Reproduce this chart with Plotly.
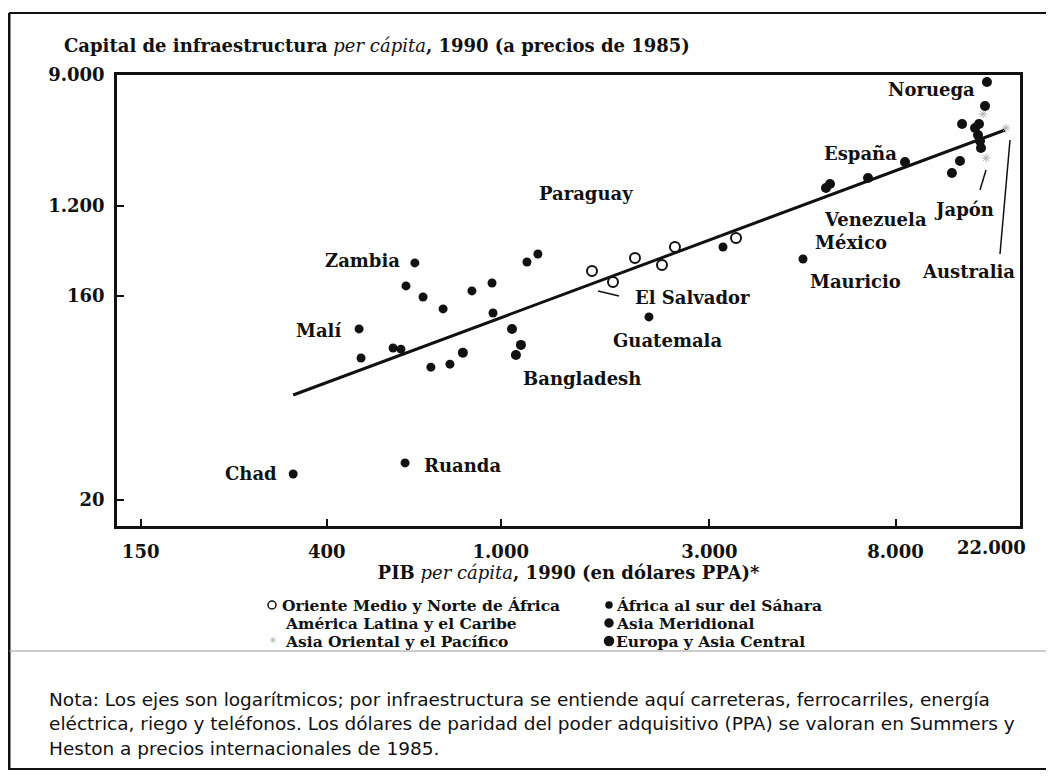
import plotly.graph_objects as go

# ---- data ----
# Africa al sur del Sahara
AFR_X = [335, 604, 636, 607, 664, 738, 859, 955, 1148, 1216, 474, 479, 567, 591, 692, 765, 960, 4914]
AFR_Y = [29.1, 34.1, 604, 434, 370, 312, 404, 453, 612, 687, 234, 154, 178, 175, 135, 141, 294, 639]
# Asia Meridional
SAS_X = [819, 1061, 1112, 1083]
SAS_Y = [166, 234, 186, 161]
# Oriente Medio y Norte de Africa (open circles)
MNA_X = [1617, 1806, 2028, 2338, 2503, 3453]
MNA_Y = [538, 459, 648, 586, 760, 864]
# America Latina y el Caribe
LAC_X = [2183, 3224]
LAC_Y = [278, 760]
# Asia Oriental y el Pacifico (faint marks)
EAP_X = [12685, 12890, 14315]
EAP_Y = [5138, 2730, 4201]
# Europa y Asia Central
ECA_X = [12950, 12820, 11360, 12420, 12160, 12355, 12485, 12550, 11235, 10770, 8410, 6922, 5665, 5546]
ECA_Y = [8136, 5764, 4449, 4449, 4201, 3799, 3485, 3151, 2615, 2200, 2577, 2048, 1878, 1774]

# fitted line end points
LINE_X = [335, 14240]
LINE_Y = [90.5, 4083]

X_TICKS = [150, 400, 1000, 3000, 8000]
X_TICK_TEXT = ["150", "400", "1.000", "3.000", "8.000"]
X_END_LABEL = "22.000"
# tick labels as they sit on the printed (uneven) vertical scale
Y_TICKS = [20, 375.6, 1369, 9000]
Y_TICK_TEXT = ["20", "160", "1.200", "9.000"]

LABELS = [("Noruega", 931, 90), ("España", 860, 153), ("Paraguay", 586, 193),
          ("Venezuela", 875, 219), ("Japón", 964, 209), ("México", 851, 242),
          ("Zambia", 362, 261), ("Australia", 968, 271), ("Mauricio", 855, 281),
          ("El Salvador", 692, 297), ("Malí", 318, 330), ("Guatemala", 667, 340),
          ("Bangladesh", 582, 378), ("Chad", 251, 473), ("Ruanda", 462, 465)]

LEG_LEFT = ["Oriente Medio y Norte de África", "América Latina y el Caribe", "Asia Oriental y el Pacífico"]
LEG_RIGHT = ["África al sur del Sáhara", "Asia Meridional", "Europa y Asia Central"]

NOTE_LINES = [
    "Nota: Los ejes son logarítmicos; por infraestructura se entiende aquí carreteras, ferrocarriles, energía",
    "eléctrica, riego y teléfonos. Los dólares de paridad del poder adquisitivo (PPA) se valoran en Summers y",
    "Heston a precios internacionales de 1985.",
]

# ---- layout geometry (page pixels; the page body adds an 8 px margin) ----
OFF = 8
FIG_W, FIG_H = 1038, 763
ML, MT = 109, 67
PW, PH = 903, 451

SERIF = "DejaVu Serif"
INK = "#111111"


def fx(px):
    return (px - OFF - ML) / PW


def fy(py):
    return 1 - (py - OFF - MT) / PH


fig = go.Figure()

fig.add_trace(go.Scatter(x=LINE_X, y=LINE_Y, mode="lines",
                         line=dict(color=INK, width=3), showlegend=False, hoverinfo="skip"))
fig.add_trace(go.Scatter(x=AFR_X, y=AFR_Y, mode="markers", name="África al sur del Sáhara",
                         marker=dict(color=INK, size=9), showlegend=False))
fig.add_trace(go.Scatter(x=SAS_X, y=SAS_Y, mode="markers", name="Asia Meridional",
                         marker=dict(color=INK, size=10), showlegend=False))
fig.add_trace(go.Scatter(x=MNA_X, y=MNA_Y, mode="markers", name="Oriente Medio y Norte de África",
                         marker=dict(color="white", size=10, line=dict(color=INK, width=2)),
                         showlegend=False))
fig.add_trace(go.Scatter(x=LAC_X, y=LAC_Y, mode="markers", name="América Latina y el Caribe",
                         marker=dict(color=INK, size=9), showlegend=False))
fig.add_trace(go.Scatter(x=EAP_X, y=EAP_Y, mode="markers", name="Asia Oriental y el Pacífico",
                         marker=dict(color="#b0b0b0", size=7, symbol="asterisk-open",
                                     line=dict(color="#b0b0b0", width=1)),
                         showlegend=False))
fig.add_trace(go.Scatter(x=ECA_X, y=ECA_Y, mode="markers", name="Europa y Asia Central",
                         marker=dict(color=INK, size=10), showlegend=False))

annotations = []

# title
annotations.append(dict(
    text="<b>Capital de infraestructura</b> <i>per cápita</i><b>, 1990 (a precios de 1985)</b>",
    x=fx(62), y=fy(45), xref="paper", yref="paper", xanchor="left", yanchor="middle",
    showarrow=False, font=dict(family=SERIF, size=18, color=INK)))

# last x label at the right end of the axis
annotations.append(dict(text="<b>%s</b>" % X_END_LABEL, x=fx(991), y=fy(547),
                        xref="paper", yref="paper", xanchor="center", yanchor="middle",
                        showarrow=False, font=dict(family=SERIF, size=18, color=INK)))

for name, px, py in LABELS:
    annotations.append(dict(text="<b>%s</b>" % name, x=fx(px), y=fy(py), xref="paper", yref="paper",
                            xanchor="center", yanchor="middle", showarrow=False,
                            font=dict(family=SERIF, size=18, color=INK)))

# legend (two columns, three rows)
LEG_ROWS = [605, 623, 641]
for i, row in enumerate(LEG_ROWS):
    annotations.append(dict(text="<b>%s</b>" % LEG_LEFT[i], x=fx(281 if i == 0 else 284), y=fy(row),
                            xref="paper", yref="paper", xanchor="left", yanchor="middle",
                            showarrow=False, borderpad=0,
                            font=dict(family=SERIF, size=15.5, color=INK)))
    annotations.append(dict(text="<b>%s</b>" % LEG_RIGHT[i], x=fx(615), y=fy(row),
                            xref="paper", yref="paper", xanchor="left", yanchor="middle",
                            showarrow=False, borderpad=0,
                            font=dict(family=SERIF, size=15.5, color=INK)))
annotations.append(dict(text="*", x=fx(273), y=fy(643), xref="paper", yref="paper",
                        xanchor="center", yanchor="middle", showarrow=False, borderpad=0,
                        font=dict(family=SERIF, size=12, color="#aaaaaa")))

for i, line in enumerate(NOTE_LINES):
    annotations.append(dict(text=line, x=fx(47), y=fy(699 + 24.5 * i), xref="paper", yref="paper",
                            xanchor="left", yanchor="middle", showarrow=False,
                            font=dict(family="DejaVu Sans", size=18.5, color=INK)))

shapes = []


def seg(x0, y0, x1, y1, color=INK, width=1.5):
    shapes.append(dict(type="line", xref="paper", yref="paper", x0=fx(x0), y0=fy(y0),
                       x1=fx(x1), y1=fy(y1), line=dict(color=color, width=width)))


# leader lines
seg(986, 170, 980, 190)
seg(1010, 140, 1000, 254)
seg(598, 291, 619, 296)

# page border and separator
seg(9, 13, 1054, 13, width=2)
seg(9, 13, 9, 770, width=3)
seg(9, 769, 1054, 769, width=2)
seg(9, 651, 1054, 651, color="#9a9a9a", width=1)


# legend symbols
def dot(px, py, r, fill=INK, line=INK):
    shapes.append(dict(type="circle", xref="paper", yref="paper", xsizemode="pixel",
                       ysizemode="pixel", xanchor=fx(px), yanchor=fy(py),
                       x0=-r, x1=r, y0=-r, y1=r, fillcolor=fill,
                       line=dict(color=line, width=1.5)))


dot(272, 605, 4, fill="white")
dot(609, 605, 3)
dot(609, 623, 4)
dot(609, 641, 4.5)

fig.update_layout(
    width=FIG_W, height=FIG_H,
    margin=dict(l=ML, r=FIG_W - ML - PW, t=MT, b=FIG_H - MT - PH, pad=0),
    paper_bgcolor="white", plot_bgcolor="white",
    showlegend=False,
    annotations=annotations, shapes=shapes,
    font=dict(family=SERIF, color=INK),
    xaxis=dict(
        type="log", range=[2.1220, 4.1879],
        tickvals=X_TICKS, ticktext=["<b>%s</b>" % t for t in X_TICK_TEXT],
        ticks="inside", ticklen=7, tickwidth=2, tickcolor=INK,
        ticklabelstandoff=8,
        tickfont=dict(family=SERIF, size=18, color=INK),
        showline=True, linecolor=INK, linewidth=2.5, mirror=True,
        showgrid=False, zeroline=False,
        title=dict(text="<b>PIB</b> <i>per cápita</i><b>, 1990 (en dólares PPA)*</b>",
                   font=dict(family=SERIF, size=18, color=INK), standoff=4),
    ),
    yaxis=dict(
        type="log", range=[1.1390, 3.9542],
        tickvals=Y_TICKS, ticktext=["<b>%s</b>" % t for t in Y_TICK_TEXT],
        ticks="inside", ticklen=7, tickwidth=2, tickcolor=INK,
        ticklabelstandoff=6,
        tickfont=dict(family=SERIF, size=18, color=INK),
        showline=True, linecolor=INK, linewidth=2.5, mirror=True,
        showgrid=False, zeroline=False,
    ),
)

fig.write_html("out.html")
